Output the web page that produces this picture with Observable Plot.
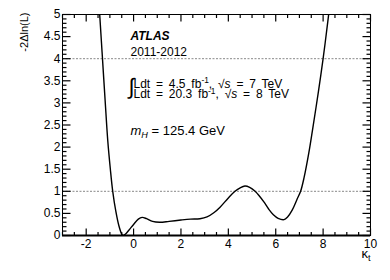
<!DOCTYPE html>
<html><head><meta charset="utf-8">
<script src="https://cdn.jsdelivr.net/npm/d3@7"></script>
<script src="https://cdn.jsdelivr.net/npm/@observablehq/plot@0.6"></script>
<style>
body{margin:0;background:#fff;}
svg{font-family:"Liberation Sans",Arial,Helvetica,sans-serif;}
</style>
</head><body><div id="chart"></div>
<script>
// Scan of -2ΔlnL versus kappa_t
const kappa = [-1.6,-1.5,-1.43,-1.33,-1.2,-1.09,-0.98,-0.88,-0.75,-0.62,-0.5,-0.45,-0.35,-0.2,0.0,0.2,0.36,0.55,0.8,1.1,1.5,2.0,2.4,2.8,3.1,3.4,3.65,4.0,4.28,4.5,4.7,4.9,5.13,5.3,5.5,5.7,5.9,6.1,6.35,6.5,6.7,6.9,7.05,7.2,7.4,7.55,7.8,8.0,8.2,8.3,8.4];
const nll   = [6.4,5.6,5.0,4.15,3.05,2.15,1.5,1.0,0.55,0.22,0.03,0.0,0.03,0.12,0.25,0.37,0.41,0.38,0.32,0.30,0.32,0.35,0.37,0.38,0.42,0.52,0.64,0.85,1.0,1.08,1.12,1.09,1.0,0.9,0.76,0.6,0.47,0.39,0.36,0.42,0.58,0.82,1.0,1.32,1.88,2.38,3.25,4.0,4.85,5.3,5.8];
const refLevels = [1, 4];
const xTickLabels = [-2, 0, 2, 4, 6, 8, 10];
const yTickLabels = [0, 0.5, 1, 1.5, 2, 2.5, 3, 3.5, 4, 4.5, 5];
const xMinorTicks = d3.range(-3, 10.001, 0.5).filter(v => !xTickLabels.includes(v));
const yMinorTicks = d3.range(0, 5.001, 0.1).map(v => +v.toFixed(1)).filter(v => !yTickLabels.includes(v));
const xLabel = "κt";
const yLabel = "-2Δln(L)";
const atlasLines = ["ATLAS", "2011-2012"];
const lumiLines = ["Ldt = 4.5 fb-1, √s = 7 TeV", "Ldt = 20.3 fb-1, √s = 8 TeV"];
const massLine = "mH = 125.4 GeV";

const W = 390, H = 280, mL = 62, mR = 20, mT = 14, mB = 45;
const xDom = [-3, 10], yDom = [0, 5];
const pxX = (xDom[1] - xDom[0]) / (W - mL - mR);   // data units per pixel
const pxY = (yDom[1] - yDom[0]) / (H - mT - mB);
const data = kappa.map((k, i) => ({k, v: nll[i]}));
const tickStyle = {stroke: "black", strokeWidth: 1.2};
const xTicks = (vals, len) => [
  Plot.link(vals, {x1: d => d, x2: d => d, y1: () => yDom[0], y2: () => yDom[0] + len * pxY, ...tickStyle}),
  Plot.link(vals, {x1: d => d, x2: d => d, y1: () => yDom[1], y2: () => yDom[1] - len * pxY, ...tickStyle})
];
const yTicks = (vals, len) => [
  Plot.link(vals, {y1: d => d, y2: d => d, x1: () => xDom[0], x2: () => xDom[0] + len * pxX, ...tickStyle}),
  Plot.link(vals, {y1: d => d, y2: d => d, x1: () => xDom[1], x2: () => xDom[1] - len * pxX, ...tickStyle})
];

const chart = Plot.plot({
  width: W, height: H,
  marginLeft: mL, marginRight: mR, marginTop: mT, marginBottom: mB,
  x: {domain: xDom},
  y: {domain: yDom},
  style: {fontFamily: '"Liberation Sans",Arial,Helvetica,sans-serif', fontSize: "12px", background: "white", color: "black"},
  marks: [
    Plot.ruleY(refLevels, {stroke: "#888", strokeWidth: 1, strokeDasharray: "2,1.5"}),
    Plot.line(data, {x: "k", y: "v", curve: "catmull-rom", stroke: "black", strokeWidth: 1.4, clip: true}),
    Plot.frame({stroke: "black", strokeWidth: 1}),
    Plot.ruleY([0], {stroke: "black", strokeWidth: 2}),
    ...xTicks(xTickLabels, 7), ...xTicks(xMinorTicks, 3.5),
    ...yTicks(yTickLabels, 8), ...yTicks(yMinorTicks, 4),
    Plot.axisX(xTickLabels, {anchor: "bottom", tickSize: 0, tickPadding: 4, tickFormat: d => String(d), label: null, fontSize: 12}),
    Plot.axisY(yTickLabels, {anchor: "left", tickSize: 0, tickPadding: 2, tickFormat: d => String(d), label: null, fontSize: 12}),
    Plot.text([yLabel], {text: d => d, frameAnchor: "top-left", dx: -42, dy: -2, rotate: -90, textAnchor: "end", fontSize: 11}),
    Plot.text([xLabel], {text: d => d, frameAnchor: "bottom-right", dx: 0, dy: 22, textAnchor: "end", fontSize: 13}),
    Plot.text([atlasLines[0]], {text: d => d, frameAnchor: "top-left", dx: 68, dy: 17, textAnchor: "start", fontWeight: "bold", fontStyle: "italic", fontSize: 12}),
    Plot.text([atlasLines[1]], {text: d => d, frameAnchor: "top-left", dx: 68, dy: 33, textAnchor: "start", fontSize: 12}),
    Plot.text(["∫"], {text: d => d, frameAnchor: "top-left", dx: 66, dy: 64, textAnchor: "start", fontSize: 22}),
    Plot.text([lumiLines[0]], {text: d => d, frameAnchor: "top-left", dx: 71, dy: 64.5, textAnchor: "start", fontSize: 12}),
    Plot.text([lumiLines[1]], {text: d => d, frameAnchor: "top-left", dx: 71, dy: 75, textAnchor: "start", fontSize: 12}),
    Plot.text([massLine], {text: d => d, frameAnchor: "top-left", dx: 68, dy: 111, textAnchor: "start", fontSize: 13})
  ]
});

const svg = d3.select(chart);
function rich(key, parts, wordSpacing) {
  svg.selectAll("text").filter(function() { return this.textContent === key; }).each(function() {
    const t = d3.select(this);
    t.text(null);
    if (wordSpacing) t.style("word-spacing", wordSpacing);
    let shift = 0;
    for (const [s, kind] of parts) {
      const ts = t.append("tspan").text(s);
      let target = 0;
      if (kind === "sup") { target = -4.5; ts.attr("font-size", "70%"); }
      if (kind === "sub" || kind === "subi") { target = 3; ts.attr("font-size", "70%"); }
      if (kind === "i" || kind === "subi") ts.attr("font-style", "italic");
      if (target !== shift) ts.attr("dy", target - shift);
      shift = target;
    }
  });
}
rich(lumiLines[0], [["Ldt = 4.5 fb"], ["-1", "sup"], [", √"], ["s", "i"], [" = 7 TeV"]], "2.5px");
rich(lumiLines[1], [["Ldt = 20.3 fb"], ["-1", "sup"], [", √"], ["s", "i"], [" = 8 TeV"]], "2.5px");
rich(massLine, [["m", "i"], ["H", "subi"], [" = 125.4 GeV"]]);
rich(xLabel, [["κ"], ["t", "sub"]]);
document.getElementById("chart").appendChild(chart);
</script>
</body></html>
